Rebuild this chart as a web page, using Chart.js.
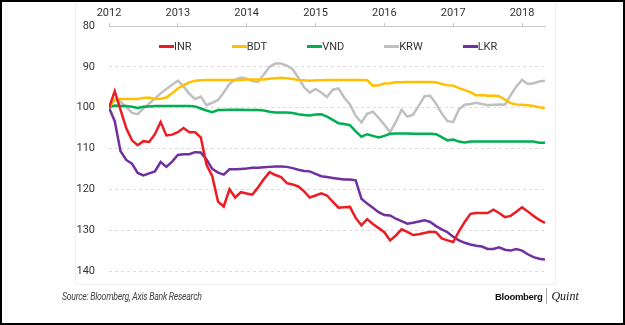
<!DOCTYPE html>
<html>
<head>
<meta charset="utf-8">
<script src="https://cdn.jsdelivr.net/npm/chart.js@4"></script>
<style>
  body { margin: 0; background: #fff; font-family: Roboto, sans-serif; }
  #frame { position: relative; width: 625px; height: 325px; overflow: hidden; }
  #outer { position: absolute; left: 0; top: 0; width: 625px; height: 325px; box-sizing: border-box; border: 2px solid #000; }
  #inner { position: absolute; left: 75px; top: 0; width: 481px; height: 285px; box-sizing: border-box; border: 1px solid #f1f1f1; border-top: none; }
  #myChart { position: absolute; left: 0; top: 0; }
  #legend { position: absolute; left: 159px; top: 40px; display: flex; gap: 40px; font-size: 11px; color: #333; line-height: 13px; }
  #legend .item { display: flex; align-items: center; }
  #legend .swatch { display: inline-block; width: 15px; height: 3px; }
  #source { position: absolute; left: 62px; top: 291px; font-size: 10px; font-style: italic; color: #444; letter-spacing: -0.3px; transform: scaleX(0.87); transform-origin: left center; white-space: nowrap; }
  #logo { position: absolute; left: 495px; top: 288px; display: flex; align-items: center; height: 16px; }
  #logo .bb { font-family: "Liberation Sans", Arial, sans-serif; font-weight: bold; font-size: 9.5px; color: #111; letter-spacing: -0.3px; }
  #logo .sep { display: inline-block; width: 0; height: 16px; border-left: 1px solid #aaa; margin: 0 4px 0 4px; }
  #logo .q { font-family: "Liberation Serif", serif; font-style: italic; font-size: 12px; color: #111; }
</style>
</head>
<body>
<div id="frame">
  <div id="inner"></div>
  <canvas id="myChart" width="625" height="325"></canvas>
  <div id="legend"></div>
  <div id="source">Source: Bloomberg, Axis Bank Research</div>
  <div id="logo"><span class="bb">Bloomberg</span><span class="sep"></span><span class="q">Quint</span></div>
  <div id="outer"></div>
</div>
<script>
// monthly index, Jan 2012 = 100
const startYear = 2012;
const yearTicks = [2012, 2013, 2014, 2015, 2016, 2017, 2018];

const inr = [100, 96, 100.5, 105, 108, 109.2, 108.2, 108.4, 106.5, 103.5, 106.8, 106.6,
  106, 105, 106, 106, 107.3, 114, 116.8, 123, 124.2, 120, 122, 120.7,
  121, 121.3, 119.5, 117.5, 115.8, 116.5, 117, 118.5, 118.8, 119.3, 120.5, 122,
  121.5, 121, 121.5, 123, 124.5, 124.4, 124.3, 127, 128.8, 127.3, 128.5, 129.5,
  130.5, 132.5, 131.3, 129.8, 130.4, 131.2, 131, 130.7, 130.4, 130.5, 132, 132.5,
  132.9, 130.3, 128, 126, 125.8, 125.8, 125.8, 125, 125.8, 126.8, 126.5, 125.5,
  124.4, 125.4, 126.5, 127.5, 128.2];

const bdt = [100, 98, 97.9, 97.9, 97.9, 97.9, 97.6, 97.5, 97.9, 97.8, 97.5, 96.5,
  95.3, 94.5, 93.8, 93.4, 93.3, 93.2, 93.2, 93.2, 93.2, 93.2, 93.2, 93.2,
  93.1, 93.1, 93.1, 93.1, 92.9, 92.8, 92.7, 92.8, 93.0, 93.2, 93.3, 93.4,
  93.3, 93.3, 93.2, 93.2, 93.2, 93.2, 93.2, 93.2, 93.2, 93.3, 94.6, 94.5,
  94.1, 94.0, 93.8, 93.8, 93.7, 93.7, 93.7, 93.7, 93.7, 93.8, 94.2, 94.5,
  94.6, 95.2, 95.7, 96.2, 97.0, 96.9, 97.1, 97.0, 97.2, 98.0, 98.9, 99.2,
  99.3, 99.4, 99.6, 99.9, 100.1];

const vnd = [100, 99.5, 99.6, 99.6, 99.8, 100.1, 99.8, 99.7, 99.6, 99.6, 99.6, 99.6,
  99.6, 99.6, 99.6, 99.7, 100.2, 100.7, 101.1, 100.6, 100.6, 100.5, 100.5, 100.5,
  100.6, 100.6, 100.6, 100.7, 101.0, 101.2, 101.2, 101.2, 101.3, 101.6, 101.8, 101.9,
  101.7, 101.6, 102.2, 103.0, 103.8, 104.0, 104.3, 105.8, 107.1, 106.5, 106.9, 107.3,
  106.9, 106.4, 106.3, 106.3, 106.3, 106.4, 106.4, 106.4, 106.4, 106.5, 107.2, 108.0,
  107.8, 108.3, 108.5, 108.3, 108.3, 108.3, 108.3, 108.3, 108.3, 108.3, 108.3, 108.3,
  108.3, 108.3, 108.3, 108.6, 108.6];

const krw = [100, 98.1, 98.6, 99.8, 101.3, 101.6, 100.2, 99, 97.8, 96.5, 95.4, 94.4,
  93.4, 94.8, 96.6, 97.9, 97.3, 99.4, 98.8, 98.1, 96.3, 94.2, 93.1, 92.6,
  92.9, 93.5, 93.7, 91.8, 90, 89.2, 89.2, 89.7, 90.6, 92.6, 95, 96.3,
  95.4, 96.3, 97.4, 95.6, 95.3, 97.5, 99.2, 102, 103.6, 101.5, 101, 102.5,
  104.2, 106, 103.5, 100.5, 102.2, 101.7, 99.5, 97.2, 97.1, 99, 101.4, 103.3,
  103.5, 100.4, 99.3, 99.1, 98.8, 99.1, 99.4, 99.3, 99.2, 99.3, 97, 94.8,
  93.2, 94.2, 94, 93.6, 93.4];

const lkr = [100, 103.3, 110.6, 112.8, 113.7, 116, 116.6, 116.1, 115.6, 113.3, 114.5, 113.2,
  111.6, 111.4, 111.4, 110.9, 111, 112.7, 115, 115.9, 116.4, 115.1, 115.1, 115,
  114.9, 114.7, 114.7, 114.6, 114.5, 114.4, 114.4, 114.5, 114.8, 115.2, 115.5, 115.6,
  116.2, 116.8, 117, 117.2, 117.4, 117.6, 117.6, 117.8, 122.3, 123.5, 124.5, 125.6,
  126.3, 126.4, 127.2, 127.8, 128.4, 128.2, 127.9, 127.6, 128, 129, 129.8, 130.5,
  131.6, 132.5, 133.1, 133.5, 133.8, 134, 134.6, 134.6, 134.2, 134.8, 135, 134.6,
  135, 135.9, 136.6, 137, 137.2];

function toPoints(values) {
  return values.map((v, i) => ({ x: startYear + i / 12, y: v }));
}

function makeSet(label, values, color) {
  return {
    label: label,
    data: toPoints(values),
    borderColor: color,
    backgroundColor: color,
    borderWidth: 2.5,
    pointRadius: 0,
    tension: 0,
    fill: false
  };
}

const ctx = document.getElementById('myChart').getContext('2d');

const data = {
  datasets: [
    makeSet('INR', inr, '#ec1c24'),
    makeSet('BDT', bdt, '#ffc000'),
    makeSet('VND', vnd, '#00b050'),
    makeSet('KRW', krw, '#c0c0c0'),
    makeSet('LKR', lkr, '#7030a0')
  ]
};

const config = {
  type: 'line',
  data: data,
  options: {
    responsive: false,
    animation: false,
    layout: { padding: { left: 75, right: 80, top: 4, bottom: 54 } },
    plugins: {
      legend: { display: false },
      tooltip: { enabled: false }
    },
    scales: {
      x: {
        type: 'linear',
        position: 'top',
        min: startYear,
        max: startYear + (inr.length - 1) / 12,
        afterBuildTicks: s => { s.ticks = yearTicks.map(v => ({ value: v })); },
        afterFit: s => { s.height = 22; },
        ticks: {
          color: '#333',
          padding: 3,
          maxRotation: 0,
          font: { family: 'Roboto', size: 11 },
          callback: v => String(v)
        },
        grid: {
          display: true,
          drawOnChartArea: false,
          drawTicks: true,
          tickLength: 3,
          color: '#c8c8c8'
        },
        border: { display: true, color: '#c8c8c8', width: 1 }
      },
      y: {
        reverse: true,
        min: 80,
        max: 140,
        afterFit: s => { s.width = 34; },
        ticks: {
          stepSize: 10,
          padding: 14,
          color: '#333',
          font: { family: 'Roboto', size: 11 }
        },
        grid: {
          drawTicks: false,
          color: c => (c.tick && c.tick.value === 80) ? 'rgba(0,0,0,0)' : '#dcdcdc'
        },
        border: { display: false, dash: [3, 3] }
      }
    }
  }
};

const chart = new Chart(ctx, config);

// legend in html, sits inside the plot under the top axis
const legendEl = document.getElementById('legend');
chart.data.datasets.forEach(ds => {
  const item = document.createElement('div');
  item.className = 'item';
  const sw = document.createElement('span');
  sw.className = 'swatch';
  sw.style.background = ds.borderColor;
  const txt = document.createElement('span');
  txt.textContent = ds.label;
  item.appendChild(sw);
  item.appendChild(txt);
  legendEl.appendChild(item);
});
</script>
</body>
</html>
